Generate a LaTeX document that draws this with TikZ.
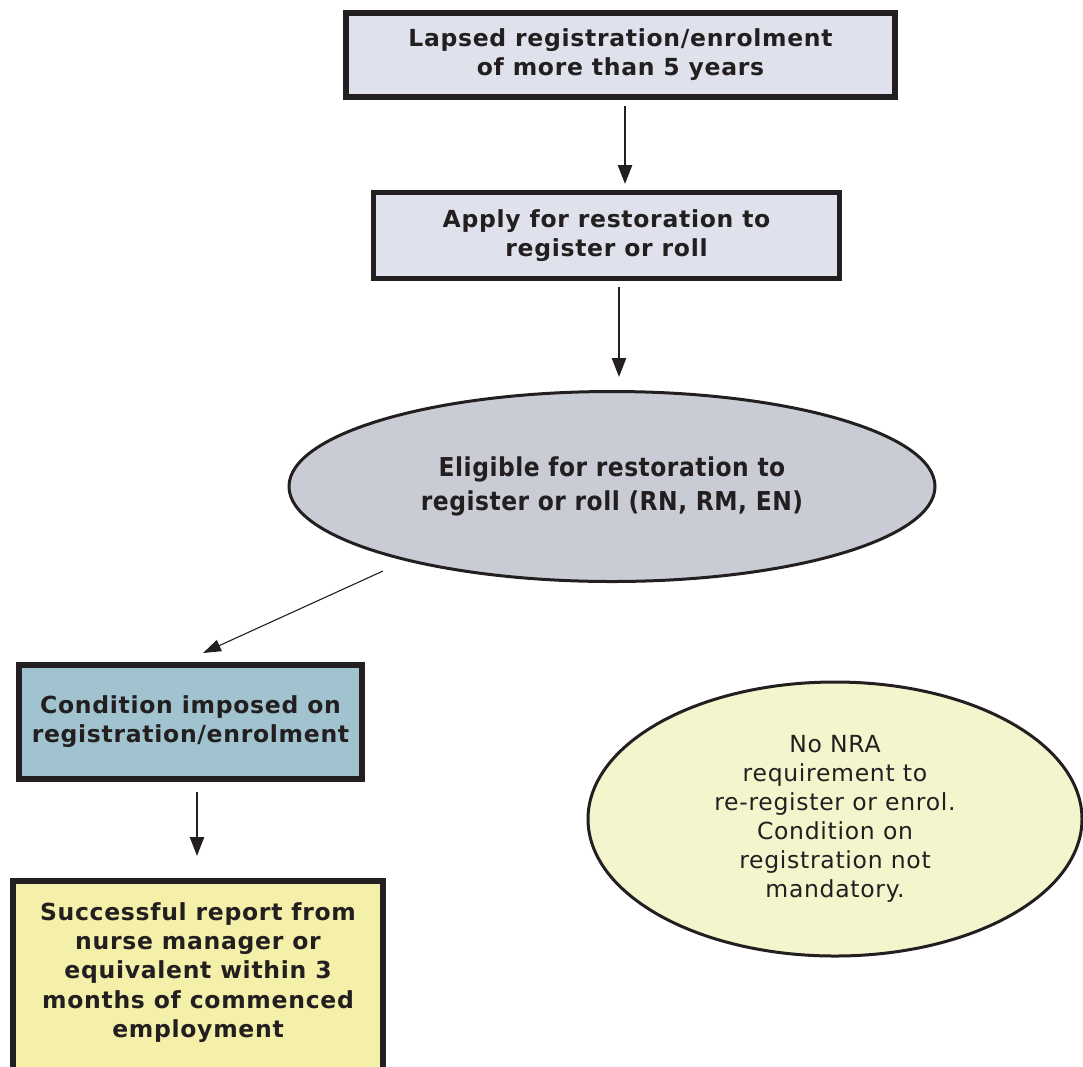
\documentclass[tikz,border=0pt]{standalone}
\usepackage{fontspec}
\setmainfont{DejaVu Sans}
\newfontfamily\wideface{DejaVu Sans}[LetterSpace=3]
\newfontfamily\condfont{DejaVu Sans Condensed}[LetterSpace=2]
\usetikzlibrary{arrows.meta,shapes.geometric}
\definecolor{ink}{HTML}{231F20}
\definecolor{lavender}{HTML}{DFE2EC}
\definecolor{steel}{HTML}{A0C3CF}
\definecolor{butter}{HTML}{F5F0A9}
\definecolor{cloud}{HTML}{C9CCD4}
\definecolor{cream}{HTML}{F4F4CD}
\tikzset{
  stepbox/.style={draw=ink, line width=6pt, inner sep=0pt, align=center,
    font=\wideface\fontsize{23.5}{29}\selectfont\bfseries, text=ink},
  oval/.style={ellipse, draw=ink, line width=3pt, inner sep=0pt, align=center, text=ink},
  flow/.style={draw=ink, line width=2.6pt, -{Triangle[length=19pt,width=14pt]}},
  thinflow/.style={draw=ink, line width=1.1pt, -{Triangle[length=18pt,width=12pt]}}
}
\begin{document}
\begin{tikzpicture}[x=1pt,y=-1pt]
\useasboundingbox (0,0) rectangle (1083,1066);
\clip (0,0) rectangle (1083,1066);

\node[stepbox, fill=lavender, minimum width=549pt, minimum height=84pt] (lapsed) at (620.5,55)
  {Lapsed registration/enrolment\\of more than 5 years};
\node[stepbox, fill=lavender, line width=5pt, minimum width=466pt, minimum height=86pt] (apply) at (606.5,235.5)
  {Apply for restoration to\\register or roll};
\node[oval, fill=cloud, minimum width=646pt, minimum height=190pt,
  font=\condfont\fontsize{26}{34}\selectfont\bfseries] (eligible) at (612,486.5)
  {Eligible for restoration to\\register or roll (RN, RM, EN)};
\node[stepbox, fill=steel, minimum width=343pt, minimum height=114pt] (cond) at (190.5,722)
  {Condition imposed on\\registration/enrolment};
\node[stepbox, fill=butter, minimum width=370pt, minimum height=200pt, anchor=north] (report) at (198,878)
  {};
\node[align=center, text=ink, font=\wideface\fontsize{23.5}{29.2}\selectfont\bfseries, anchor=north] (reporttext) at (198,899)
  {Successful report from\\nurse manager or\\equivalent within 3\\months of commenced\\employment};
\node[oval, fill=cream, minimum width=494pt, minimum height=274pt,
  font=\wideface\fontsize{23.5}{29}\selectfont] (nra) at (835,819)
  {No NRA\\requirement to\\re-register or enrol.\\Condition on\\registration not\\mandatory.};

\coordinate (a1s) at (625,106);
\coordinate (a1e) at (625,184);
\coordinate (a2s) at (619,287);
\coordinate (a2e) at (619,377);
\coordinate (a3s) at (383,571);
\coordinate (a3e) at (203,653);
\coordinate (a4s) at (197,792);
\coordinate (a4e) at (197,856);
\draw[flow] (a1s) -- (a1e);
\draw[flow] (a2s) -- (a2e);
\draw[thinflow] (a3s) -- (a3e);
\draw[flow] (a4s) -- (a4e);
\end{tikzpicture}
\end{document}
